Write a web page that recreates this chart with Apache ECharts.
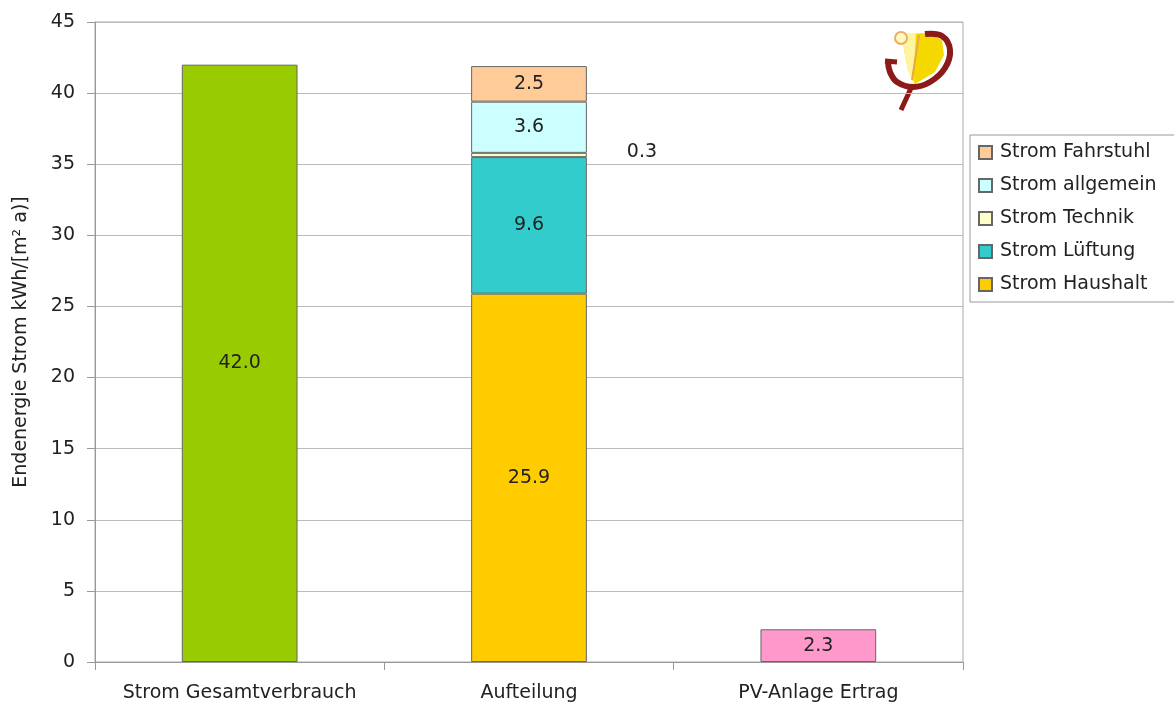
<!DOCTYPE html>
<html><head><meta charset="utf-8">
<script src="https://cdn.jsdelivr.net/npm/echarts@6/dist/echarts.min.js"></script>
<style>html,body{margin:0;padding:0;background:#fff}#c{width:1174px;height:708px}</style>
</head><body><div id="c"></div>
<script>
const categories = ['Strom Gesamtverbrauch', 'Aufteilung', 'PV-Anlage Ertrag'];
const gesamt = [42.0, '-', '-'];
const haushalt = ['-', 25.9, '-'];
const lueftung = ['-', 9.6, '-'];
const technik = ['-', 0.3, '-'];
const allgemein = ['-', 3.6, '-'];
const fahrstuhl = ['-', 2.5, '-'];
const pv = ['-', '-', 2.3];
const yTicks = [0, 5, 10, 15, 20, 25, 30, 35, 40, 45];

const font = 'DejaVu Sans, Verdana, sans-serif';
const FS = 19;
const lbl = {show: true, position: 'inside', color: '#222', fontSize: FS, fontFamily: font,
  formatter: p => Number(p.value).toFixed(1)};
function s(name, data, color, extra) {
  return Object.assign({
    name, type: 'bar', stack: 'a', data, barWidth: '40%',
    itemStyle: {color, borderColor: '#666', borderWidth: 1},
    label: lbl
  }, extra || {});
}
const chart = echarts.init(document.getElementById('c'));
chart.setOption({
  animation: false,
  backgroundColor: '#fff',
  textStyle: {fontFamily: font},
  grid: {left: 95, right: 211, top: 22, bottom: 46, show: true, borderColor: '#aaa', borderWidth: 1},
  xAxis: {
    type: 'category', data: categories,
    axisLine: {lineStyle: {color: '#999'}},
    axisTick: {show: true, interval: 0, length: 8, lineStyle: {color: '#999'}},
    axisLabel: {color: '#222', fontSize: FS, margin: 22, fontFamily: font, interval: 0, hideOverlap: false}
  },
  yAxis: {
    type: 'value', min: yTicks[0], max: yTicks[yTicks.length - 1], interval: 5,
    name: 'Endenergie Strom kWh/[m² a)]', nameLocation: 'middle', nameGap: 64,
    nameTextStyle: {color: '#222', fontSize: FS, fontFamily: font},
    axisLine: {show: true, lineStyle: {color: '#999'}},
    axisTick: {show: true, length: 8, lineStyle: {color: '#999'}},
    axisLabel: {color: '#222', fontSize: FS, margin: 20, fontFamily: font},
    splitLine: {lineStyle: {color: '#bbb'}}
  },
  legend: {
    orient: 'vertical', left: 970, top: 135,
    data: ['Strom Fahrstuhl', 'Strom allgemein', 'Strom Technik', 'Strom Lüftung', 'Strom Haushalt'],
    icon: 'rect', itemWidth: 13, itemHeight: 13, itemGap: 14,
    padding: [8, 40, 8, 8], borderColor: '#999', borderWidth: 1,
    textStyle: {color: '#222', fontSize: FS, fontFamily: font, padding: [0, 0, 0, 3]}
  },
  series: [
    s('Strom Gesamtverbrauch', gesamt, '#99CC00'),
    s('Strom Haushalt', haushalt, '#FFCC00'),
    s('Strom Lüftung', lueftung, '#33CCCC'),
    s('Strom Technik', technik, '#FFFFCC', {label: Object.assign({}, lbl, {position: 'right', distance: 40, offset: [0, -3]})}),
    s('Strom allgemein', allgemein, '#CCFFFF'),
    s('Strom Fahrstuhl', fahrstuhl, '#FFCC99'),
    s('PV-Anlage Ertrag', pv, '#FF99CC')
  ],
  graphic: [
    {type: 'polygon', shape: {points: [[903,34],[928,33],[942,40],[944,55],[935,72],[915,84],[908,70],[904,50]]},
      style: {fill: '#F5D800'}, silent: true},
    {type: 'polygon', shape: {points: [[903,34],[916,33],[913,84],[908,70],[904,50]]},
      style: {fill: '#FFF4A0'}, silent: true},
    {type: 'line', shape: {x1: 919, y1: 35, x2: 912, y2: 80}, style: {stroke: '#E8A848', lineWidth: 2}, silent: true},
    {type: 'polyline', shape: {smooth: 0.4, points: [[925,34],[942,36],[950,50],[945,68],[930,82],[913,87],[897,82],[890,72],[888,62]]},
      style: {stroke: '#8B1A1A', lineWidth: 6, fill: null}, silent: true},
    {type: 'line', shape: {x1: 885, y1: 61, x2: 897, y2: 62}, style: {stroke: '#8B1A1A', lineWidth: 5}, silent: true},
    {type: 'line', shape: {x1: 912, y1: 86, x2: 901, y2: 110}, style: {stroke: '#8B1A1A', lineWidth: 5}, silent: true},
    {type: 'circle', shape: {cx: 901, cy: 38, r: 6}, style: {fill: '#FFF8C0', stroke: '#E8B060', lineWidth: 2}, silent: true}
  ]
});
</script></body></html>
